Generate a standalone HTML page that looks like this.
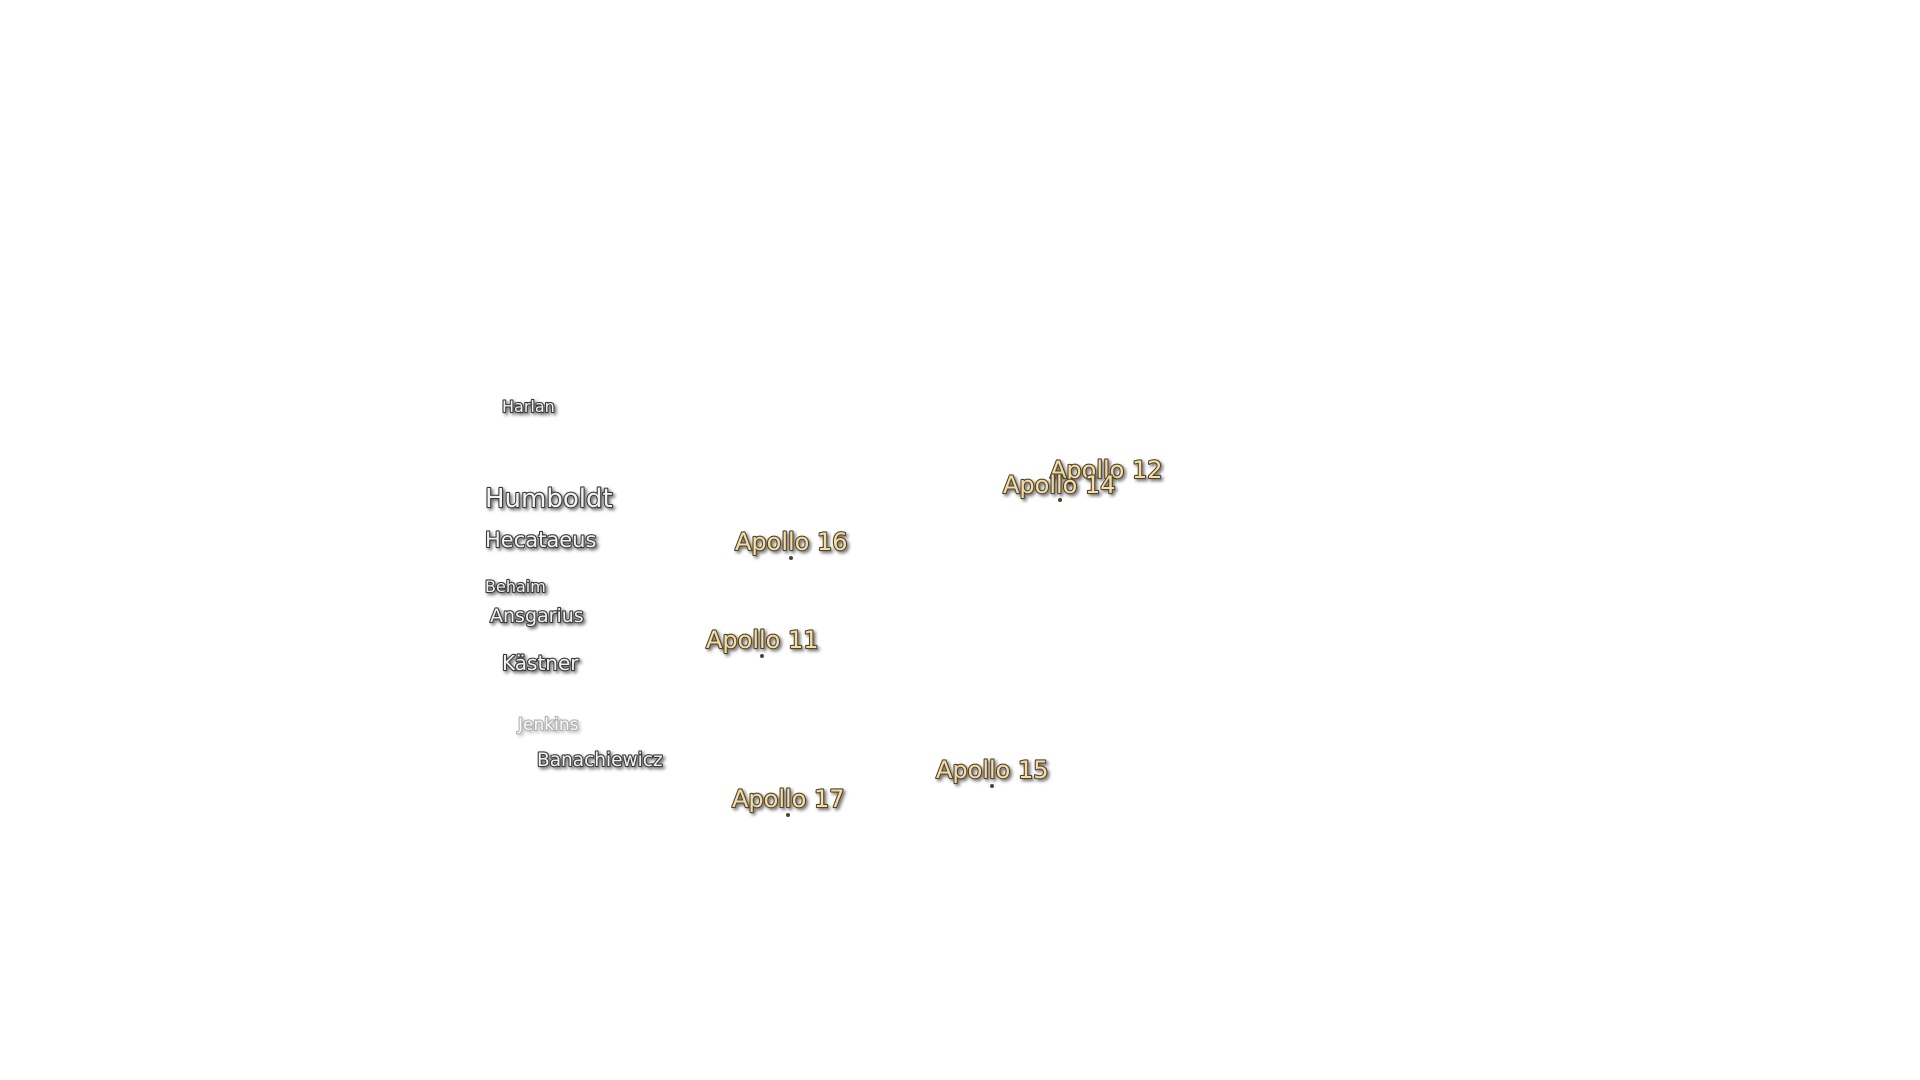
<!DOCTYPE html>
<html><head><meta charset="utf-8"><style>
html,body{margin:0;padding:0;background:#fff;width:1920px;height:1080px;overflow:hidden}
svg text{font-family:"DejaVu Sans","Liberation Sans",sans-serif;paint-order:stroke;stroke-linejoin:round}
.g{fill:#f2f2f2;stroke:#3a3a3a;stroke-width:2.2px;filter:url(#sh)}
.a{fill:#f7dca0;stroke:#4e4430;stroke-width:2.2px;filter:url(#sh)}
</style></head><body>
<svg width="1920" height="1080" xmlns="http://www.w3.org/2000/svg">
<defs><filter id="sh" x="-10%" y="-30%" width="130%" height="160%"><feDropShadow dx="2" dy="2" stdDeviation="1.5" flood-color="#000" flood-opacity="0.55"/></filter></defs>
<text class="g" x="502" y="412" font-size="16">Harlan</text>
<text class="g" x="485" y="507" font-size="26">Humboldt</text>
<text class="g" x="485" y="547" font-size="21">Hecataeus</text>
<text class="g" x="485" y="592" font-size="16">Behaim</text>
<text class="g" x="490" y="622" font-size="19">Ansgarius</text>
<text class="g" x="502" y="670" font-size="20">Kästner</text>
<text class="g" x="518" y="730" font-size="17" opacity="0.4">Jenkins</text>
<text class="g" x="537" y="766" font-size="18.5">Banachiewicz</text>
<g fill="#4e4430">
<circle cx="791" cy="558" r="2"/><circle cx="762" cy="656" r="2"/><circle cx="1060" cy="500" r="2"/>
<circle cx="992" cy="786" r="2"/><circle cx="788" cy="815" r="2"/>
</g>
<text class="a" x="1050" y="478" font-size="24">Apollo 12</text>
<text class="a" x="1003" y="493" font-size="24">Apollo 14</text>
<text class="a" x="735" y="550" font-size="24">Apollo 16</text>
<text class="a" x="706" y="648" font-size="24">Apollo 11</text>
<text class="a" x="936" y="778" font-size="24">Apollo 15</text>
<text class="a" x="732" y="807" font-size="24">Apollo 17</text>
</svg>
</body></html>
